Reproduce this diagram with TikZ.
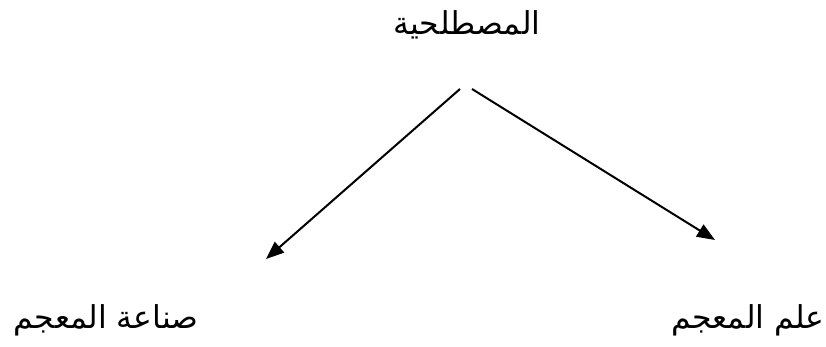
\documentclass[tikz,border=0pt]{standalone}
\usepackage{fontspec}
\usetikzlibrary{arrows.meta}
\TeXXeTstate=1
\newfontfamily\arabicfont[Script=Arabic]{DejaVu Sans}
\begin{document}
\begin{tikzpicture}[x=1pt,y=-1pt,
  lbl/.style={font=\arabicfont\fontsize{31.5}{36}\selectfont, inner sep=0pt, anchor=base},
  arr/.style={line width=2pt, -{Triangle[length=18pt,width=14pt]}}]
\useasboundingbox (0,0) rectangle (826,347);
\node[lbl] (top) at (467,35) {\beginR المصطلحية\endR};
\node[lbl] (left) at (106,328) {\beginR صناعة المعجم\endR};
\node[lbl] (right) at (748,328) {\beginR علم المعجم\endR};
\coordinate (s1) at (460,89);
\coordinate (t1) at (266,259);
\coordinate (s2) at (472,89);
\coordinate (t2) at (715,240);
\draw[arr] (s1) -- (t1);
\draw[arr] (s2) -- (t2);
\end{tikzpicture}
\end{document}
